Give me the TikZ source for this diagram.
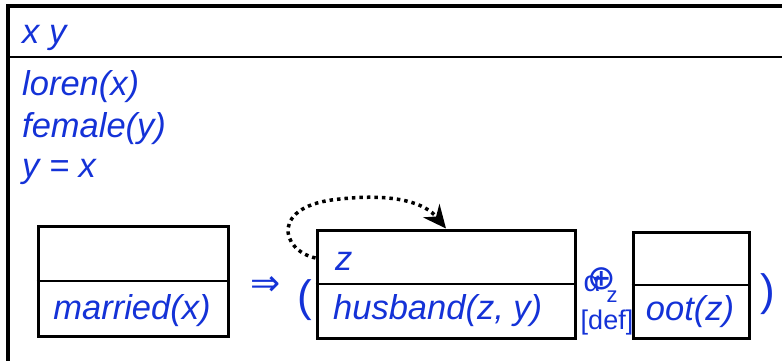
\documentclass[tikz,border=0pt]{standalone}
\usepackage{fontspec}
\setmainfont{Liberation Sans}
\newfontfamily\symfont{DejaVu Sans}
\usetikzlibrary{arrows.meta, positioning}
\definecolor{drsblue}{RGB}{20,50,215}

\begin{document}
\begin{tikzpicture}[x=1pt, y=-1pt,
    box/.style={draw, line width=3pt, inner sep=0pt},
    cond/.style={text=drsblue, font=\fontsize{34.5}{40}\selectfont\itshape, inner sep=0pt},
    sym/.style={text=drsblue, inner sep=0pt}]
    \useasboundingbox (0,0) rectangle (782,360);
    \clip (0,0) rectangle (782,360);

    % --- Outer box ---
    \draw[line width=3.5pt] (8,6) rectangle (820,400);
    \draw[line width=2pt] (8,57) -- (820,57);

    % --- Universe and conditions ---
    \node[cond, anchor=base west] (univ) at (22,43) {x y};
    \node[cond, anchor=base west] (loren) at (22,95) {loren(x)};
    \node[cond, anchor=base west] (female) at (22,137) {female(y)};
    \node[cond, anchor=base west] (eq) at (22,177) {y = x};

    % --- Antecedent box ---
    \node[box, minimum width=190pt, minimum height=110pt] (marbox) at (133,281) {};
    \draw[line width=1.5pt] (marbox.west) -- (marbox.east);
    \node[cond, anchor=base] (marcond) at (132,319) {married(x)};

    % --- Implication and left paren ---
    \node[sym, font=\symfont\fontsize{36}{38}\selectfont] (impl) at (266,286) {⇒};
    \node[sym, font=\fontsize{44}{48}\selectfont] (lpar) at (305,300) {(};

    % --- Consequent box ---
    \node[box, minimum width=258pt, minimum height=108pt] (husbox) at (446,284) {};
    \draw[line width=1.5pt] (husbox.west) -- (husbox.east);
    \node[cond, anchor=base west] (husref) at (335,270) {z};
    \node[cond, anchor=base west] (huscond) at (333,319) {husband(z, y)};

    % --- Operator between boxes ---
    \node[sym, font=\fontsize{29}{30}\selectfont] (opalpha) at (592,284) {α};
    \node[sym, font=\symfont\fontsize{34}{36}\selectfont] (opplus) at (602,279) {⊕};
    \node[sym, font=\fontsize{22}{24}\selectfont] (opz) at (612,297) {z};
    \node[sym, font=\fontsize{27}{28}\selectfont, anchor=base] (opdef) at (607,329) {[def]};

    % --- Right box and right paren ---
    \node[box, minimum width=116pt, minimum height=106pt] (ootbox) at (691,285) {};
    \draw[line width=1.5pt] (ootbox.west) -- (ootbox.east);
    \node[cond, anchor=base] (ootcond) at (690,320) {oot(z)};
    \node[sym, font=\fontsize{44}{48}\selectfont] (rpar) at (768,294) {)};

    % --- Dotted reference arrow ---
    \draw[-{Stealth[length=23pt, width=21pt]}, line width=3.5pt, dash pattern=on 3.5pt off 4pt]
        ([yshift=26pt]husbox.west) .. controls (280,250) and (270,205) .. (340,199)
        .. controls (395,193) and (425,203) .. (husbox.north);
\end{tikzpicture}
\end{document}
